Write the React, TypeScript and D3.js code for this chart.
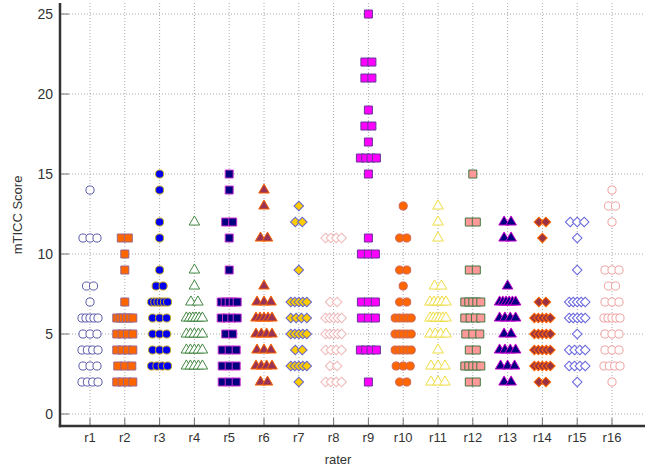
import * as d3 from "d3";

const raters = ["r1", "r2", "r3", "r4", "r5", "r6", "r7", "r8", "r9", "r10", "r11", "r12", "r13", "r14", "r15", "r16"];

// scores per rater
const r1 = [14, 11, 11, 11, 8, 8, 7, 6, 6, 6, 6, 6, 5, 5, 5, 4, 4, 4, 4, 3, 3, 3, 2, 2, 2, 2];
const r2 = [11, 11, 10, 9, 7, 6, 6, 6, 6, 6, 6, 5, 5, 5, 5, 4, 4, 4, 4, 3, 3, 3, 2, 2, 2, 2];
const r3 = [15, 14, 12, 11, 9, 8, 8, 7, 7, 7, 7, 7, 7, 6, 6, 6, 5, 5, 5, 4, 4, 4, 3, 3, 3, 3];
const r4 = [12, 9, 8, 7, 7, 6, 6, 6, 6, 6, 6, 5, 5, 5, 5, 5, 4, 4, 4, 4, 4, 3, 3, 3, 3, 3];
const r5 = [15, 14, 12, 12, 11, 9, 7, 7, 7, 7, 7, 6, 6, 6, 6, 5, 5, 4, 4, 4, 3, 3, 3, 2, 2, 2];
const r6 = [14, 13, 11, 11, 8, 7, 7, 7, 6, 6, 6, 6, 6, 5, 5, 5, 5, 4, 4, 4, 3, 3, 3, 3, 2, 2];
const r7 = [13, 12, 12, 9, 7, 7, 7, 7, 7, 6, 6, 6, 6, 5, 5, 5, 5, 5, 4, 4, 3, 3, 3, 3, 3, 2];
const r8 = [11, 11, 11, 11, 7, 7, 6, 6, 6, 6, 6, 5, 5, 5, 5, 5, 4, 4, 4, 4, 3, 3, 2, 2, 2, 2];
const r9 = [25, 22, 22, 21, 21, 19, 18, 18, 17, 16, 16, 16, 16, 15, 11, 10, 10, 10, 7, 7, 7, 6, 6, 6, 4, 4, 4, 4, 2];
const r10 = [13, 11, 11, 9, 9, 8, 7, 7, 6, 6, 6, 6, 6, 5, 5, 5, 5, 5, 4, 4, 4, 4, 4, 3, 3, 3, 2, 2];
const r11 = [13, 12, 11, 8, 8, 7, 7, 7, 7, 7, 6, 6, 6, 6, 6, 6, 5, 5, 5, 5, 4, 3, 3, 3, 2, 2, 2];
const r12 = [15, 12, 12, 9, 9, 7, 7, 7, 7, 7, 6, 6, 6, 6, 5, 5, 5, 4, 4, 3, 3, 3, 3, 3, 2, 2];
const r13 = [12, 12, 11, 11, 8, 7, 7, 7, 7, 7, 7, 6, 6, 6, 6, 5, 5, 4, 4, 4, 4, 3, 3, 3, 2, 2];
const r14 = [12, 12, 11, 7, 7, 6, 6, 6, 6, 6, 5, 5, 5, 5, 5, 4, 4, 4, 4, 4, 3, 3, 3, 3, 3, 2, 2];
const r15 = [12, 12, 12, 11, 9, 7, 7, 7, 7, 7, 6, 6, 6, 6, 6, 5, 4, 4, 4, 4, 3, 3, 3, 3, 2];
const r16 = [14, 13, 13, 12, 9, 9, 9, 8, 8, 7, 7, 7, 6, 6, 6, 6, 6, 5, 5, 5, 4, 4, 4, 3, 3, 3, 3, 2];

const scores = [r1, r2, r3, r4, r5, r6, r7, r8, r9, r10, r11, r12, r13, r14, r15, r16];

const yTicks = [0, 5, 10, 15, 20, 25];

const shapes = ["circle", "square", "circle", "triangle", "square", "triangle", "diamond", "diamond", "square", "circle", "triangle", "square", "triangle", "diamond", "diamond", "circle"];
const fills = ["#fff", "#ff6600", "#0000ee", "#fff", "#000080", "#993355", "#ffcc00", "#fff", "#ff00ff", "#ff6600", "#fff", "#ff9999", "#000080", "#993344", "#fff", "#fff"];
const strokes = ["#5b5bab", "#996688", "#c8a820", "#448844", "#cc33cc", "#ff6600", "#6666cc", "#f0b8b8", "#663399", "#cc6655", "#eedd44", "#447744", "#cc00cc", "#ff6600", "#6666dd", "#f0a0a0"];

const W = 645;
const H = 474;

const symbolFor = (s: string) => {
  if (s === "circle") return d3.symbol().type(d3.symbolCircle).size(52)();
  if (s === "square") return d3.symbol().type(d3.symbolSquare).size(64)();
  if (s === "triangle") return d3.symbol().type(d3.symbolTriangle).size(48)();
  return d3.symbol().type(d3.symbolSquare).size(46)();
};

export default function App() {
  const x = d3.scalePoint<string>().domain(raters).range([90, 612]);
  const y = d3.scaleLinear().domain([-0.75, 25.69]).range([426, 3]);
  const axisX = 60;
  const axisY = 426;

  const marks: JSX.Element[] = [];
  scores.forEach((vals, ri) => {
    const cx = x(raters[ri])!;
    const groups = d3.groups(vals, (v) => v).sort((a, b) => a[0] - b[0]);
    const path = symbolFor(shapes[ri]);
    groups.forEach(([v, arr]) => {
      const n = arr.length;
      const step = n > 1 ? Math.min(7, 16 / (n - 1)) : 0;
      arr.forEach((_, k) => {
        const dx = (k - (n - 1) / 2) * step;
        marks.push(
          <path
            key={`${ri}-${v}-${k}`}
            d={path!}
            transform={`translate(${cx + dx},${y(v)})${shapes[ri] === "diamond" ? " rotate(45)" : ""}`}
            fill={fills[ri]}
            stroke={strokes[ri]}
            strokeWidth={1}
          />
        );
      });
    });
  });

  return (
    <svg width={W} height={H} style={{ position: "absolute", left: 0, top: 0, fontFamily: "Liberation Sans, Arial, sans-serif" }}>
      <rect width={W} height={H} fill="#fff" />
      {/* grid */}
      {yTicks.map((t) => (
        <g key={t}>
          <line x1={axisX} x2={W} y1={y(t)} y2={y(t)} stroke="#aaa" strokeDasharray="1,2" />
          <line x1={axisX} x2={axisX + 9} y1={y(t)} y2={y(t)} stroke="#777" />
          <text x={axisX - 7} y={y(t)} dy="0.35em" textAnchor="end" fontSize={14} fill="#333">
            {t}
          </text>
        </g>
      ))}
      {raters.map((r) => (
        <g key={r}>
          <line x1={x(r)} x2={x(r)} y1={3} y2={axisY} stroke="#aaa" strokeDasharray="1,2" />
          <line x1={x(r)} x2={x(r)} y1={axisY - 8} y2={axisY} stroke="#777" />
          <text x={x(r)} y={442} textAnchor="middle" fontSize={13} fill="#333">
            {r}
          </text>
        </g>
      ))}
      {marks}
      {/* axes */}
      <line x1={axisX} x2={axisX} y1={3} y2={axisY + 1.25} stroke="#333" strokeWidth={2.5} />
      <line x1={axisX - 1.25} x2={W} y1={axisY} y2={axisY} stroke="#333" strokeWidth={2.5} />
      <text x={338} y={464} textAnchor="middle" fontSize={13} fill="#333">
        rater
      </text>
      <text transform="translate(22,215) rotate(-90)" textAnchor="middle" fontSize={13} fill="#333">
        mTICC Score
      </text>
    </svg>
  );
}
